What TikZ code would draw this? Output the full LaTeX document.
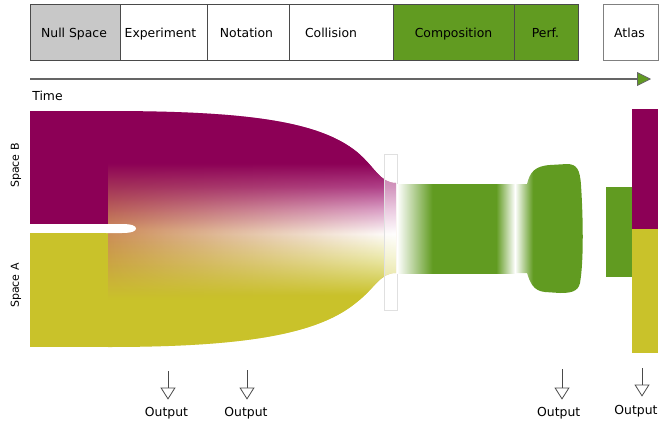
\documentclass[tikz,border=0pt]{standalone}
\usepackage{fontspec}
\setmainfont{DejaVu Sans}
\usetikzlibrary{arrows.meta,fadings}
\definecolor{mag}{HTML}{8C0056}
\definecolor{yel}{HTML}{C9C22A}
\definecolor{grn}{HTML}{619B21}
\definecolor{orng}{HTML}{CC8A5A}
\definecolor{cream}{HTML}{EDECB0}
\definecolor{lpink}{HTML}{DDA4CC}
\definecolor{pnk}{HTML}{B0408A}
\definecolor{nullgray}{HTML}{C8C8C8}
\definecolor{edge}{HTML}{4A4A4A}
\pgfdeclareverticalshading{bulbbase}{100bp}{color(0bp)=(yel); color(35bp)=(yel); color(50bp)=(orng); color(64bp)=(mag); color(100bp)=(mag)}
\pgfdeclareverticalshading{bulbover}{100bp}{color(0bp)=(yel); color(36bp)=(yel); color(44bp)=(cream); color(49bp)=(white); color(54bp)=(lpink); color(59bp)=(pnk); color(64bp)=(mag); color(100bp)=(mag)}
\pgfdeclarehorizontalshading{rectsh}{100bp}{color(0bp)=(white); color(25bp)=(white); color(40bp)=(grn); color(67bp)=(grn); color(75bp)=(white); color(100bp)=(white)}
\pgfdeclarehorizontalshading{blobsh}{100bp}{color(0bp)=(white); color(25bp)=(white); color(38bp)=(grn); color(100bp)=(grn)}
\tikzfading[name=fadein, left color=transparent!100, middle color=transparent!50, right color=transparent!0]
\begin{document}
\begin{tikzpicture}[x=1pt,y=-1pt,
  font=\fontsize{12.4}{14}\selectfont,
  box/.style={draw=edge, line width=0.8pt, anchor=north west, inner sep=0pt, minimum height=56pt},
  block/.style={anchor=north west, inner sep=0pt},
  lbl/.style={anchor=base, inner sep=0pt},
  outarrow/.style={draw=edge, line width=0.8pt, -{Triangle[open,length=12pt,width=15pt]}},
  sidelbl/.style={anchor=base, inner sep=0pt, rotate=90, font=\fontsize{11}{13}\selectfont}]
\useasboundingbox (0,0) rectangle (662,426);

% top phase boxes
\node[box, fill=nullgray, minimum width=90pt] (bnull) at (30,4) {};
\node[box, minimum width=87pt] (bexp) at (120,4) {};
\node[box, minimum width=82pt] (bnot) at (207,4) {};
\node[box, minimum width=104pt] (bcol) at (289,4) {};
\node[box, fill=grn, minimum width=121pt] (bcomp) at (393,4) {};
\node[box, fill=grn, minimum width=64pt] (bperf) at (514,4) {};
\node[box, draw=gray, minimum width=55pt] (batlas) at (603,4) {};
\node[lbl] (tnull) at (74,37) {Null Space};
\node[lbl] (texp) at (160.5,37) {Experiment};
\node[lbl] (tnot) at (246.5,37) {Notation};
\node[lbl] (tcol) at (331,37) {Collision};
\node[lbl] (tcomp) at (453.5,37) {Composition};
\node[lbl] (tperf) at (545.5,37) {Perf.};
\node[lbl] (tatlas) at (629.5,37) {Atlas};

% time axis
\coordinate (t0) at (30,79);
\coordinate (t1) at (651,79);
\draw[edge!85, line width=1.3pt, -{Triangle[length=14pt,width=14pt,fill=grn,line width=0.8pt]}] (t0) -- (t1);
\node[lbl] (time) at (47.5,100) {Time};

% bulb
\def\bulbpath{(108,111) .. controls (250,111) and (320,122) .. (357,152) .. controls (375,167) and (380,183) .. (396,183) -- (396,273) .. controls (380,273) and (375,288) .. (357,302) .. controls (320,333) and (250,347) .. (108,347) -- cycle}
\shade[shading=bulbbase] \bulbpath;
\shade[shading=bulbover, path fading=fadein] \bulbpath;

% left input spaces
\node[block, fill=mag, minimum width=78pt, minimum height=113pt] (spB) at (30,111) {};
\node[block, fill=yel, minimum width=78pt, minimum height=114pt] (spA) at (30,233) {};
\fill[white] (106,224) -- (122,224) .. controls (132,224) and (136,226) .. (136,228.5) .. controls (136,231) and (132,233) .. (122,233) -- (106,233) -- cycle;

% neck frame
\node[block, draw=black!12, line width=0.6pt, fill=white, fill opacity=0.45, minimum width=13pt, minimum height=156pt] (neck) at (384,154) {};

% green stage
\shade[shading=rectsh] (397,184) rectangle (515,273);
\shade[shading=blobsh] (515,184) -- (527,184) .. controls (530,172) and (535,166) .. (550,165) -- (567,164) .. controls (577,164) and (580,170) .. (581,185) .. controls (583,215) and (584,260) .. (580,283) .. controls (578,292) and (570,293) .. (560,293) -- (545,292) .. controls (533,291) and (530,282) .. (527,273) -- (515,273) -- cycle;
\node[block, fill=grn, minimum width=26pt, minimum height=90pt] (gsmall) at (606,187) {};

% atlas stack
\node[block, fill=mag, minimum width=26pt, minimum height=120pt] (stB) at (632,109) {};
\node[block, fill=yel, minimum width=26pt, minimum height=124pt] (stA) at (632,229) {};

% side labels
\node[sidelbl] (lB) at (19,165.5) {Space B};
\node[sidelbl] (lA) at (19,285.5) {Space A};

% outputs
\coordinate (a1) at (168,371);
\coordinate (a2) at (247,370);
\coordinate (a3) at (562,369);
\coordinate (a4) at (642,368);
\node[lbl] (o1) at (166.5,416) {Output};
\node[lbl] (o2) at (246,416) {Output};
\node[lbl] (o3) at (558.7,416) {Output};
\node[lbl] (o4) at (636,414) {Output};
\draw[outarrow, shorten >=7pt] (a1) -- (a1 |- o1.north);
\draw[outarrow, shorten >=7pt] (a2) -- (a2 |- o2.north);
\draw[outarrow, shorten >=7pt] (a3) -- (a3 |- o3.north);
\draw[outarrow, shorten >=8pt] (a4) -- (a4 |- o4.north);
\end{tikzpicture}
\end{document}
